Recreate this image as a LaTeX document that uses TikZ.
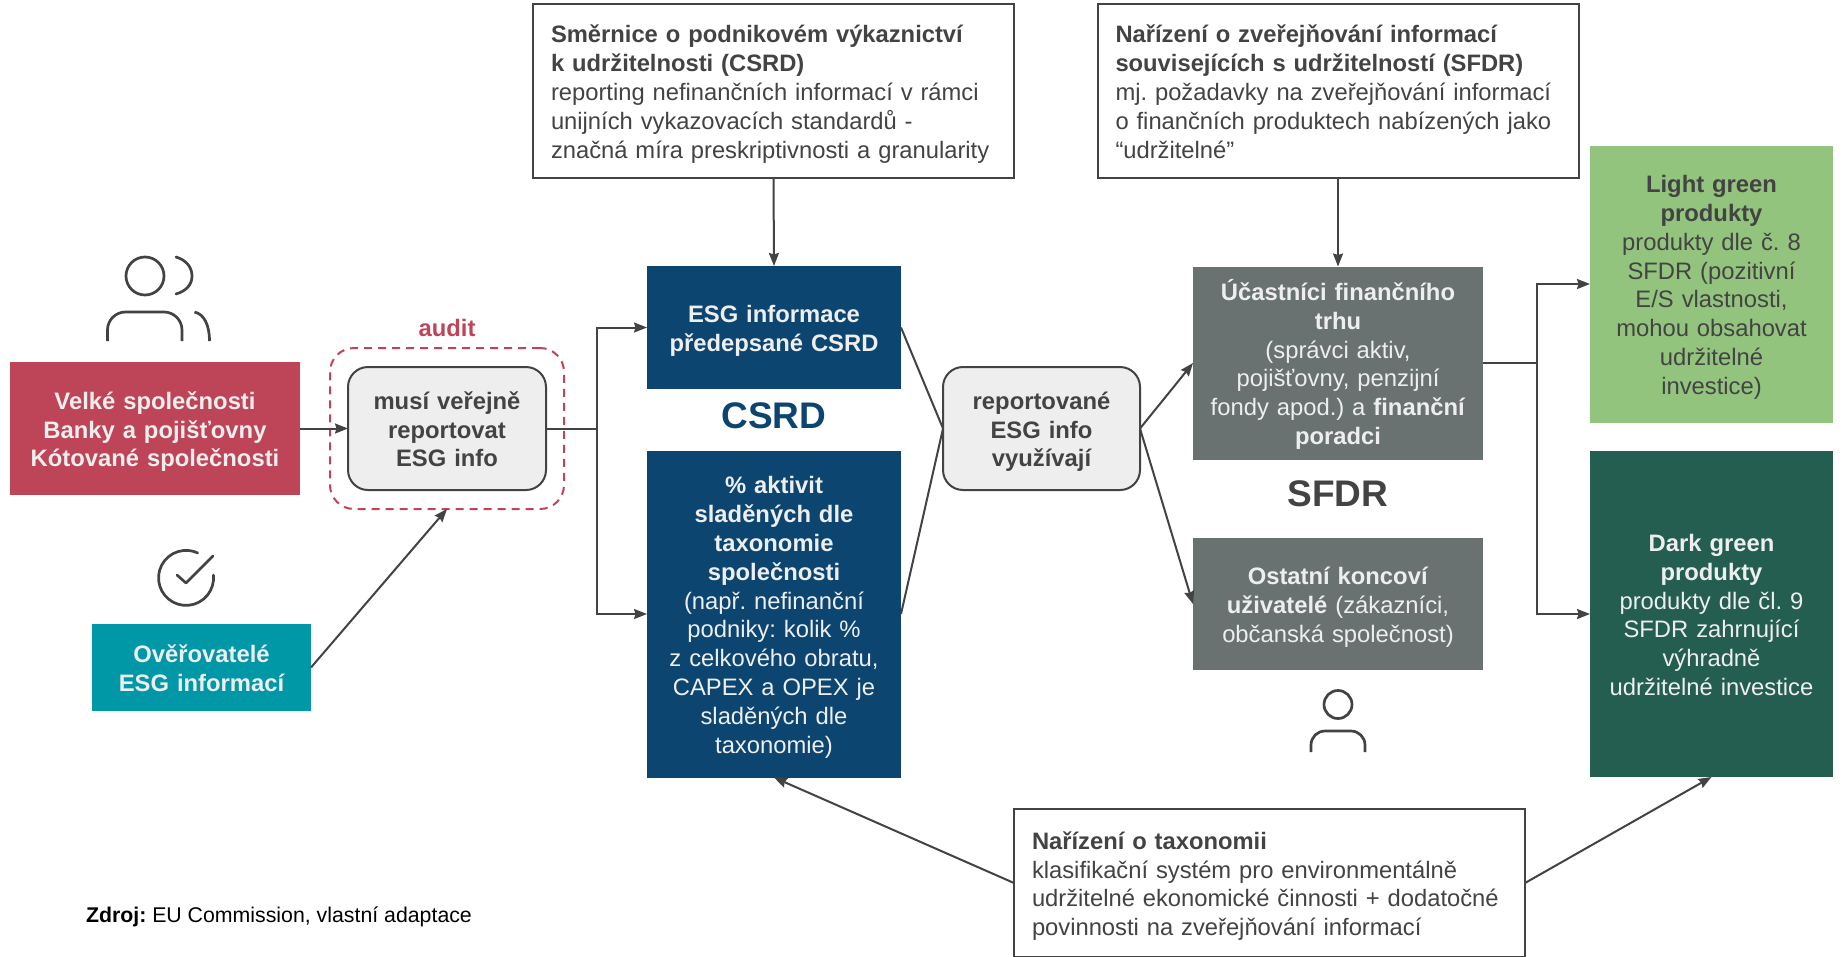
\documentclass[tikz,border=0pt]{standalone}
\usepackage{fontspec}
\setmainfont{Liberation Sans}
\usetikzlibrary{arrows.meta}
\definecolor{ink}{HTML}{434343}
\definecolor{pale}{HTML}{EEEEEE}
\definecolor{redc}{HTML}{BE4457}
\definecolor{tealc}{HTML}{0097A7}
\definecolor{bluec}{HTML}{0B4570}
\definecolor{grayc}{HTML}{6A7271}
\definecolor{lightg}{HTML}{93C47D}
\definecolor{darkg}{HTML}{245E50}
\tikzset{
  txt/.style={font=\fontsize{23.8}{28.8}\selectfont, align=center, outer sep=0pt, inner sep=0pt},
  drop/.style={execute at begin node={\frenchspacing\rule{0pt}{#1pt}}},
  lines/.style={txt, drop=26, execute at end node={\rule[-7pt]{0pt}{7pt}}},
  sized/.style 2 args={minimum width=#1pt, text width=#1pt, minimum height=#2pt},
  solidbox/.style={lines, fill=#1, text=pale},
  boldtxt/.style={font=\fontsize{23.8}{28.8}\selectfont\bfseries},
  notebox/.style={lines, draw=ink, line width=2pt, fill=white, text=ink, align=left, font=\fontsize{23.75}{28.8}\selectfont},
  pill/.style={lines, draw=ink, line width=2pt, fill=pale, text=ink, rounded corners=20pt, boldtxt},
  link/.style={draw=ink, line width=2pt},
  arr/.style={link, -{Stealth[length=13pt,width=10pt,inset=1.5pt]}},
  icon/.style={draw=ink, line width=2.7pt},
}
\begin{document}
\begin{tikzpicture}[x=1pt,y=-1pt]
\useasboundingbox[fill=white] (0,0) rectangle (1845,956);
% solid boxes
\node[solidbox=redc, sized={290}{133}, boldtxt] (red) at (155,428.5) {Velké společnosti\\Banky a pojišťovny\\Kótované společnosti};
\node[solidbox=tealc, sized={219}{87}, boldtxt] (teal) at (201.5,667.5) {Ověřovatelé\\ESG informací};
\node[solidbox=bluec, sized={254}{123}, boldtxt] (blueA) at (774,327.5) {ESG informace\\předepsané CSRD};
\node[solidbox=bluec, sized={254}{327}] (blueB) at (774,614) {\textbf{\% aktivit}\\\textbf{sladěných dle}\\\textbf{taxonomie}\\\textbf{společnosti}\\(např. nefinanční\\podniky: kolik \%\\z celkového obratu,\\CAPEX a OPEX je\\sladěných dle\\taxonomie)};
\node[solidbox=grayc, sized={290}{193}] (grayA) at (1338,363) {\textbf{Účastníci finančního}\\\textbf{trhu}\\(správci aktiv,\\pojišťovny, penzijní\\fondy apod.) a \textbf{finanční}\\\textbf{poradci}};
\node[solidbox=grayc, sized={290}{132}] (grayB) at (1338,604) {\textbf{Ostatní koncoví}\\\textbf{uživatelé} (zákazníci,\\občanská společnost)};
\node[lines, fill=lightg, text=ink, sized={243}{277}] (light) at (1711.5,284) {\textbf{Light green}\\\textbf{produkty}\\produkty dle č. 8\\SFDR (pozitivní\\E/S vlastnosti,\\mohou obsahovat\\udržitelné\\investice)};
\node[solidbox=darkg, sized={243}{326}] (dark) at (1711.5,614) {\textbf{Dark green}\\\textbf{produkty}\\produkty dle čl. 9\\SFDR zahrnující\\výhradně\\udržitelné investice};
% audit frame and rounded boxes
\node[draw=redc, line width=2pt, dash pattern=on 8pt off 6pt, rounded corners=24pt, minimum width=234pt, minimum height=161pt, outer sep=0pt] (auditframe) at (447,428.5) {};
\node[txt, text=redc, boldtxt] (audit) at (447,328) {audit};
\node[pill, sized={198}{123}] (must) at (447,428.5) {musí veřejně\\reportovat\\ESG info};
\node[pill, sized={197}{123}] (rep) at (1041.5,428.5) {reportované\\ESG info\\využívají};
% note boxes
\node[notebox, drop=24.4, text width=445pt, minimum height=174pt, inner xsep=18pt] (noteC) at (773.5,91) {\textbf{Směrnice o podnikovém výkaznictví}\\\textbf{k udržitelnosti (CSRD)}\\reporting nefinančních informací v rámci\\unijních vykazovacích standardů -\\značná míra preskriptivnosti a granularity};
\node[notebox, drop=24.4, text width=445pt, minimum height=174pt, inner xsep=18pt] (noteS) at (1338,91) {\textbf{Nařízení o zveřejňování informací}\\\textbf{souvisejících s udržitelností (SFDR)}\\mj. požadavky na zveřejňování informací\\o finančních produktech nabízených jako\\“udržitelné”};
\node[notebox, drop=24.4, text width=475pt, minimum height=148pt, inner xsep=18pt] (noteT) at (1269.5,883) {\textbf{Nařízení o taxonomii}\\klasifikační systém pro environmentálně\\udržitelné ekonomické činnosti + dodatočné\\povinnosti na zveřejňování informací};
% big labels and source
\node[txt, text=bluec, font=\fontsize{37}{40}\selectfont\bfseries] (csrdl) at (774,416) {CSRD};
\node[txt, text=ink, font=\fontsize{37}{40}\selectfont\bfseries] (sfdrl) at (1338,493.5) {SFDR};
\node[txt, text=black, anchor=west, font=\fontsize{21.3}{25}\selectfont] (src) at (86,917) {\frenchspacing\textbf{Zdroj:} EU Commission, vlastní adaptace};
% junctions
\coordinate (jL) at (596.5,428.5);
\coordinate (jR) at (1536.5,363);
% connectors
\draw[arr] (red.east) -- (must.west);
\draw[link] (must.east) -- (jL);
\draw[arr] (jL) |- (blueA.west);
\draw[arr] (jL) |- (blueB.west);
\draw[arr] (noteC.south) -- (blueA.north);
\draw[arr] (noteS.south) -- (grayA.north);
\draw[arr] (teal.east) -- (auditframe.south);
\draw[link] (blueA.east) -- (rep.west);
\draw[link] (blueB.east) -- (rep.west);
\draw[arr] (rep.east) -- (grayA.west);
\draw[arr] (rep.east) -- (grayB.west);
\draw[link] (grayA.east) -- (jR);
\draw[arr] (jR) |- (light.west);
\draw[arr] (jR) |- (dark.west);
\draw[arr] (noteT.west) -- (blueB.south);
\draw[arr] (noteT.east) -- (dark.south);
% icons
\draw[icon] (145,276) circle[radius=19pt];
\draw[icon, line cap=round] (176,257) .. controls (186,260) and (192,267) .. (192,276) .. controls (192,285) and (186,291) .. (176,294);
\draw[icon, rounded corners=18pt] (107.5,341) -- (107.5,312) -- (182,312) -- (182,341);
\draw[icon] (194.5,312) .. controls (204,314) and (209.5,325) .. (209.5,341);
\draw[icon, line cap=round] (213.4,575) arc[start angle=6,end angle=-295,radius=27.5pt];
\draw[icon, line cap=round, line join=round] (177,575) -- (186,583) -- (213,556);
\draw[icon] (1338,704.5) circle[radius=14pt];
\draw[icon, rounded corners=14pt] (1311,752) -- (1311,731) -- (1365,731) -- (1365,752);
\end{tikzpicture}
\end{document}
